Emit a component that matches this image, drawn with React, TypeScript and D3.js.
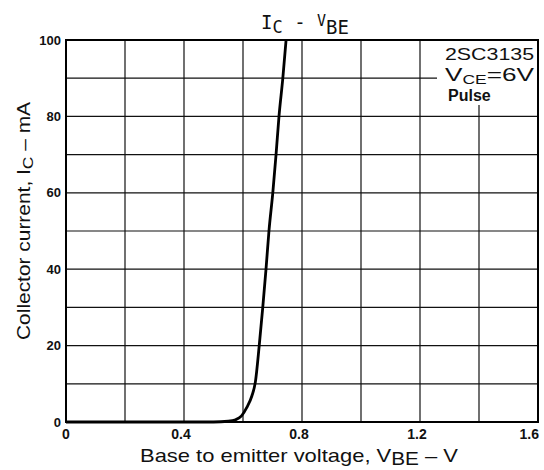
import { useMemo } from 'react';
import * as d3 from 'd3';

const W = 544;
const H = 470;

const vbe = [0, 0.5, 0.55, 0.575, 0.595, 0.613, 0.63, 0.642, 0.655, 0.667, 0.678, 0.688, 0.701, 0.712, 0.722, 0.735, 0.746];
const ic = [0, 0, 0.2, 0.6, 1.6, 3.8, 6.8, 10.5, 20, 30, 40, 50, 60, 70, 80, 90, 100];

const xGrid = [0, 0.2, 0.4, 0.6, 0.8, 1.0, 1.2, 1.4, 1.6];
const yGrid = [0, 10, 20, 30, 40, 50, 60, 70, 80, 90, 100];
const xTickLabels = ['0', '0.4', '0.8', '1.2', '1.6'];
const yTickLabels = ['0', '20', '40', '60', '80', '100'];

const margin = { top: 40, right: 6, bottom: 48, left: 66 };

export default function App() {
  const x = useMemo(() => d3.scaleLinear().domain([0, 1.6]).range([margin.left, W - margin.right]), []);
  const y = useMemo(() => d3.scaleLinear().domain([0, 100]).range([H - margin.bottom, margin.top]), []);

  const pts = vbe.map((v, i) => [v, ic[i]] as [number, number]);
  const line = d3
    .line<[number, number]>()
    .x((d) => x(d[0]))
    .y((d) => y(d[1]))
    .curve(d3.curveMonotoneX);

  const left = x(0);
  const right = x(1.6);
  const top = y(100);
  const bottom = y(0);
  const sans = 'Liberation Sans, Arial, sans-serif';

  return (
    <svg
      width={W}
      height={H}
      viewBox={`0 0 ${W} ${H}`}
      style={{ position: 'absolute', left: 0, top: 0, background: '#fff' }}
    >
      {/* grid */}
      <g stroke="#111" strokeWidth={1.2}>
        {xGrid.map((v) => (
          <line key={'x' + v} x1={x(v)} x2={x(v)} y1={top} y2={bottom} />
        ))}
        {yGrid.map((v) => (
          <line key={'y' + v} x1={left} x2={right} y1={y(v)} y2={y(v)} />
        ))}
      </g>

      {/* legend patch */}
      <rect x={437} y={top + 1} width={right - 437 - 1} height={64} fill="#fff" />
      <g fontFamily={sans} fill="#111">
        <text x={445} y={60} fontSize={17} textLength={89} lengthAdjust="spacingAndGlyphs">2SC3135</text>
        <text x={445} y={81} fontSize={18} textLength={89} lengthAdjust="spacingAndGlyphs">
          V<tspan fontSize={12} dy={3}>CE</tspan>
          <tspan dy={-3}>=6V</tspan>
        </text>
        <text x={448} y={101} fontSize={16} fontWeight="bold">Pulse</text>
      </g>

      <rect x={left} y={top} width={right - left} height={bottom - top} fill="none" stroke="#000" strokeWidth={2} />

      <path d={line(pts) ?? ''} fill="none" stroke="#000" strokeWidth={2.8} />

      {/* y tick labels */}
      <g fontFamily={sans} fontSize={13} fontWeight="bold" textAnchor="end" fill="#111">
        {yTickLabels.map((t) => (
          <text key={t} x={left - 5} y={y(+t)} dy="0.35em">{t}</text>
        ))}
      </g>

      {/* x tick labels */}
      <g fontFamily={sans} fontSize={14} fontWeight="bold" fill="#111">
        {xTickLabels.map((t, i) => (
          <text
            key={t}
            x={i === xTickLabels.length - 1 ? right + 1 : x(+t) - (i === 0 ? 0 : 3)}
            y={bottom + 17}
            textAnchor={i === xTickLabels.length - 1 ? 'end' : 'middle'}
          >
            {t}
          </text>
        ))}
      </g>

      {/* title */}
      <text x={305} y={29} textAnchor="middle" fontFamily="DejaVu Sans Mono, monospace" fontSize={19} fill="#111">
        I<tspan fontSize={17} dy={4}>C</tspan>
        <tspan dy={-4}> - </tspan>
        <tspan fontSize={15} dy={-3}>V</tspan>
        <tspan fontSize={19} dy={8}>BE</tspan>
      </text>

      {/* axis titles */}
      <text x={299} y={462} textAnchor="middle" fontFamily={sans} fontSize={19} fill="#111" textLength={318} lengthAdjust="spacingAndGlyphs">
        Base to emitter voltage, V<tspan fontSize={18} dy={3}>BE</tspan>
        <tspan dy={-3}> – V</tspan>
      </text>
      <text
        transform={`translate(30, ${(top + bottom) / 2 - 10}) rotate(-90)`}
        textAnchor="middle"
        fontFamily={sans}
        fontSize={18}
        fill="#111"
        textLength={238}
        lengthAdjust="spacingAndGlyphs"
      >
        Collector current, I<tspan fontSize={15} dy={3}>C</tspan>
        <tspan dy={-3}> – mA</tspan>
      </text>
    </svg>
  );
}
